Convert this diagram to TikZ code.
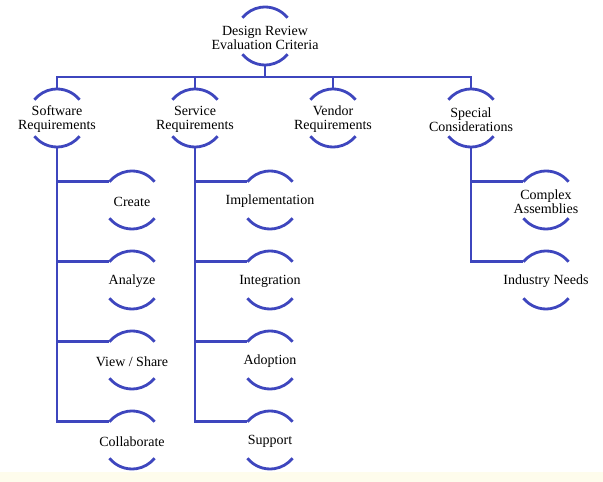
\documentclass[tikz,border=0pt]{standalone}
\usepackage{fontspec}
\setmainfont{Liberation Serif}
\definecolor{lineblue}{RGB}{62,70,190}
\definecolor{cream}{RGB}{254,252,236}
\begin{document}
\begin{tikzpicture}[x=1pt,y=1pt,
  crit/.style={circle, minimum size=58pt, inner sep=0pt, outer sep=0pt},
  lbl/.style={align=center, font=\fontsize{14}{14}\selectfont, inner sep=0pt, yshift=-1.5pt},
  link/.style={draw=lineblue, line width=2.8pt},
]
\fill[white] (0,0) rectangle (603,482);
\fill[cream] (0,0) rectangle (603,10);
\useasboundingbox (0,0) rectangle (603,482);

% root
\node[crit, label={[lbl]center:{Design Review\\Evaluation Criteria}}] (top) at (265,446) {};
% level 2
\node[crit, label={[lbl]center:{Software\\Requirements}}] (sw) at (57,364) {};
\node[crit, label={[lbl]center:{Service\\Requirements}}] (sv) at (195,364) {};
\node[crit, label={[lbl]center:{Vendor\\Requirements}}] (vd) at (333,364) {};
\node[crit, label={[lbl]center:{Special\\Considerations}}] (sp) at (471,364) {};
% software children
\node[crit, label={[lbl]center:Create}] (cr) at (132,282) {};
\node[crit, label={[lbl]center:Analyze}] (an) at (132,202) {};
\node[crit, label={[lbl]center:View / Share}] (vs) at (132,122) {};
\node[crit, label={[lbl]center:Collaborate}] (co) at (132,42) {};
% service children
\node[crit, label={[lbl]center:Implementation}] (im) at (270,282) {};
\node[crit, label={[lbl]center:Integration}] (ig) at (270,202) {};
\node[crit, label={[lbl]center:Adoption}] (ad) at (270,122) {};
\node[crit, label={[lbl]center:Support}] (su) at (270,42) {};
% special children
\node[crit, label={[lbl]center:{Complex\\Assemblies}}] (ca) at (546,282) {};
\node[crit, label={[lbl]center:Industry Needs}] (ind) at (546,202) {};

% arcs
\foreach \n in {top,sw,sv,vd,sp,cr,an,vs,co,im,ig,ad,su,ca,ind}{
  \draw[link] (\n.39) arc[start angle=39, end angle=141, radius=29pt];
  \draw[link] (\n.219) arc[start angle=219, end angle=321, radius=29pt];
}

% bus
\coordinate (busC) at (265,405);
\draw[link] (top.south) -- (busC);
\draw[link] (sw.north) -- (sw.north |- busC) -| (sp.north);
\draw[link] (sv.north) -- (sv.north |- busC);
\draw[link] (vd.north) -- (vd.north |- busC);

% branches
\foreach \c in {cr,an,vs,co}{ \draw[link] (sw.south) |- (\c.141); }
\foreach \c in {im,ig,ad,su}{ \draw[link] (sv.south) |- (\c.141); }
\foreach \c in {ca,ind}{ \draw[link] (sp.south) |- (\c.141); }
\end{tikzpicture}
\end{document}
